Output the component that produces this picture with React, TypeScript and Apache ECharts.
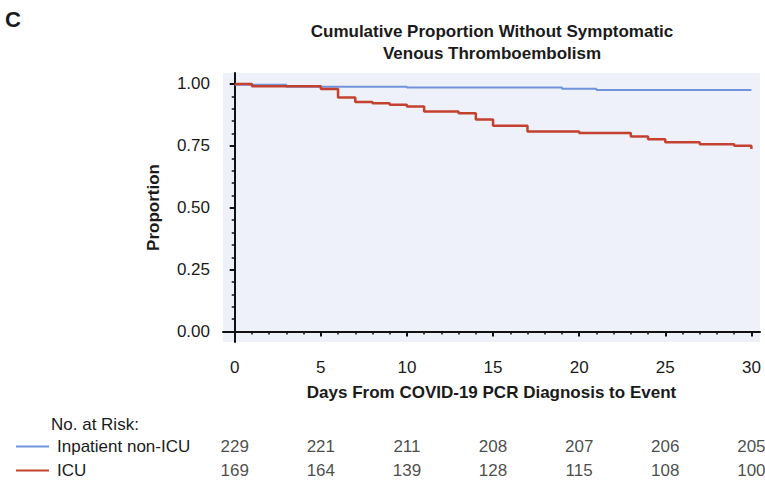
import React, { useEffect, useRef } from "react";
import * as echarts from "echarts";

// Kaplan-Meier step data (time of change, proportion after change)
const icuDays = [0, 1, 5, 6, 7, 8, 9, 10, 11, 13, 14, 15, 17, 20, 23, 24, 25, 27, 29, 30];
const icuSurv = [1.0, 0.991, 0.98, 0.945, 0.927, 0.922, 0.916, 0.909, 0.889, 0.882, 0.857, 0.831, 0.808, 0.802, 0.788, 0.777, 0.765, 0.757, 0.751, 0.737];
const nonIcuDays = [0, 3, 10, 19, 21, 30];
const nonIcuSurv = [0.997, 0.989, 0.986, 0.981, 0.976, 0.976];

// Axis ticks
const xTicks = [0, 5, 10, 15, 20, 25, 30];
const yTicks = [0, 0.25, 0.5, 0.75, 1.0];

// Numbers at risk
const riskDays = [0, 5, 10, 15, 20, 25, 30];
const riskNonIcu = [229, 221, 211, 208, 207, 206, 205];
const riskIcu = [169, 164, 139, 128, 115, 108, 100];

const NON_ICU = "Inpatient non-ICU";
const ICU = "ICU";
const BLUE = "#6f94dc";
const RED = "#c4402f";
const FONT = '"Liberation Sans", Arial, sans-serif';
const TXT = "#1a1a1a";

const X_MIN = -0.68;
const X_MAX = 30.5;
const Y_MIN = -0.042;
const Y_MAX = 1.0444;

export default function App() {
  const ref = useRef<HTMLDivElement>(null);
  useEffect(() => {
    document.body.style.margin = "0";
    const chart = echarts.init(ref.current!, null, { renderer: "svg" });
    const xMinor: number[] = [];
    for (let d = 0; d <= 30; d++) if (d % 5 !== 0) xMinor.push(d);
    const yMinor: number[] = [];
    for (let k = 0; k <= 20; k++) if (k % 5 !== 0) yMinor.push(k / 20);

    const axisLine = { show: true, lineStyle: { color: "#111", width: 2 } };
    const legendBase = {
      orient: "horizontal",
      left: 11,
      icon: "rect",
      itemWidth: 33,
      itemHeight: 2,
      textStyle: { fontSize: 17, color: TXT, fontFamily: FONT, lineHeight: 17, padding: [0, 0, 0, 3] },
    };
    const option: any = {
      animation: false,
      backgroundColor: "#ffffff",
      textStyle: { fontFamily: FONT },
      grid: [
        { left: 223, top: 73, right: 5, bottom: 140, show: true, backgroundColor: "#eef1f9", borderWidth: 0 },
        { left: 223, top: 435, right: 5, height: 48 },
      ],
      legend: [
        { ...legendBase, top: 433, data: [NON_ICU] },
        { ...legendBase, top: 457, data: [ICU] },
      ],
      xAxis: [
        {
          type: "value", gridIndex: 0, min: X_MIN, max: X_MAX, position: "bottom",
          axisLine, splitLine: { show: false },
          axisTick: { show: true, customValues: xTicks, length: 5, lineStyle: { color: "#111", width: 2 } },
          axisLabel: { show: true, customValues: xTicks, fontSize: 17, color: TXT, margin: 17, fontFamily: FONT },
          name: "Days From COVID-19 PCR Diagnosis to Event",
          nameLocation: "middle", nameGap: 42,
          nameTextStyle: { fontSize: 17, fontWeight: "bold", color: TXT, fontFamily: FONT },
        },
        {
          type: "value", gridIndex: 0, min: X_MIN, max: X_MAX, position: "bottom", offset: 0,
          axisLine: { show: false }, splitLine: { show: false },
          axisTick: { show: true, customValues: xMinor, length: 3, lineStyle: { color: "#111", width: 1.5 } },
          axisLabel: { show: false },
        },
        {
          type: "value", gridIndex: 1, min: X_MIN, max: X_MAX, show: false,
        },
      ],
      yAxis: [
        {
          type: "value", gridIndex: 0, min: Y_MIN, max: Y_MAX, position: "left",
          axisLine, splitLine: { show: false },
          axisTick: { show: true, customValues: yTicks, length: 5, lineStyle: { color: "#111", width: 2 } },
          axisLabel: { show: true, customValues: yTicks, fontSize: 17, color: TXT, margin: 13, fontFamily: FONT,
            formatter: (v: number) => v.toFixed(2) },
          name: "Proportion", nameLocation: "middle", nameGap: 61,
          nameTextStyle: { fontSize: 17, fontWeight: "bold", color: TXT, fontFamily: FONT },
        },
        {
          type: "value", gridIndex: 0, min: Y_MIN, max: Y_MAX, position: "left", offset: 0,
          axisLine: { show: false }, splitLine: { show: false },
          axisTick: { show: true, customValues: yMinor, length: 3, lineStyle: { color: "#111", width: 1.5 } },
          axisLabel: { show: false },
        },
        {
          type: "category", gridIndex: 1, data: [ICU, NON_ICU], show: false,
        },
      ],
      series: [
        {
          name: NON_ICU, type: "line", step: "end", xAxisIndex: 0, yAxisIndex: 0,
          symbol: "none", color: BLUE, lineStyle: { color: BLUE, width: 2 },
          data: nonIcuDays.map((d, i) => [d, nonIcuSurv[i]]),
        },
        {
          name: ICU, type: "line", step: "end", xAxisIndex: 0, yAxisIndex: 0,
          symbol: "none", color: RED, lineStyle: { color: RED, width: 2.5 },
          data: icuDays.map((d, i) => [d, icuSurv[i]]),
        },
        {
          name: "risk-nonicu", type: "scatter", xAxisIndex: 2, yAxisIndex: 2,
          symbolSize: 1, itemStyle: { color: "rgba(0,0,0,0)" },
          label: { show: true, position: "inside", fontSize: 17, color: TXT, fontFamily: FONT,
            formatter: (p: any) => String(p.data[2]) },
          data: riskDays.map((d, i) => [d, NON_ICU, riskNonIcu[i]]),
        },
        {
          name: "risk-icu", type: "scatter", xAxisIndex: 2, yAxisIndex: 2,
          symbolSize: 1, itemStyle: { color: "rgba(0,0,0,0)" },
          label: { show: true, position: "inside", fontSize: 17, color: TXT, fontFamily: FONT,
            formatter: (p: any) => String(p.data[2]) },
          data: riskDays.map((d, i) => [d, ICU, riskIcu[i]]),
        },
      ],
      graphic: [
        { type: "text", x: 5, y: 19, style: { text: "C", font: `bold 22px ${FONT}`, fill: TXT, align: "left", verticalAlign: "middle", textAlign: "left", textVerticalAlign: "middle" } },
        { type: "text", x: 492, y: 31, style: { text: "Cumulative Proportion Without Symptomatic", font: `bold 17px ${FONT}`, fill: TXT, align: "center", verticalAlign: "middle", textAlign: "center", textVerticalAlign: "middle" } },
        { type: "text", x: 492, y: 53, style: { text: "Venous Thromboembolism", font: `bold 17px ${FONT}`, fill: TXT, align: "center", verticalAlign: "middle", textAlign: "center", textVerticalAlign: "middle" } },
        { type: "text", x: 51, y: 424, style: { text: "No. at Risk:", font: `17px ${FONT}`, fill: TXT, align: "left", verticalAlign: "middle", textAlign: "left", textVerticalAlign: "middle" } },
      ],
    };
    chart.setOption(option);
    return () => chart.dispose();
  }, []);
  return <div ref={ref} style={{ position: "absolute", left: 0, top: 0, width: 765, height: 482 }} />;
}
